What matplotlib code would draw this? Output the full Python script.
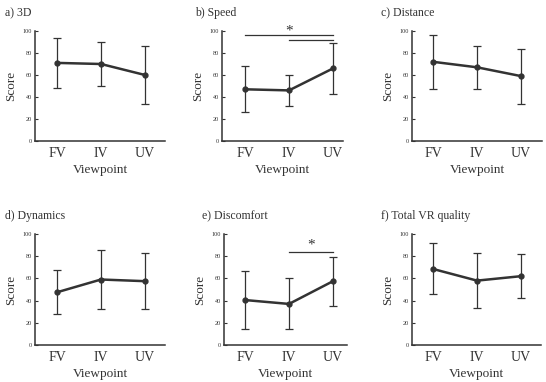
import matplotlib
matplotlib.use('Agg')
import matplotlib.pyplot as plt
import numpy as np

plt.rcParams['font.family'] = ['Liberation Serif', 'DejaVu Serif']

## data
viewpoints = ['FV', 'IV', 'UV']
titles = ['a) 3D', 'b) Speed', 'c) Distance', 'd) Dynamics', 'e) Discomfort', 'f) Total VR quality']

mean_3d = [71, 70, 60]
sd_3d = [23, 20, 26]
mean_speed = [47, 46, 66]
sd_speed = [21, 14, 23]
mean_distance = [72, 67, 59]
sd_distance = [24.5, 19.5, 25]
mean_dynamics = [47.5, 59, 57.5]
sd_dynamics = [20, 27, 25]
mean_discomfort = [40.5, 37, 57.5]
sd_discomfort = [26, 23, 22]
mean_total = [68.5, 58, 62]
sd_total = [23, 25, 20]

means = [mean_3d, mean_speed, mean_distance, mean_dynamics, mean_discomfort, mean_total]
sds = [sd_3d, sd_speed, sd_distance, sd_dynamics, sd_discomfort, sd_total]

# significance brackets: panel index -> list of (from, to, height)
sig_pairs = {1: [(0, 2, 96), (1, 2, 92)], 4: [(1, 2, 84)]}
star_pos = {1: (1.0, 100), 4: (1.5, 90)}

## layout (pixels)
W, H = 546, 382
# left, right-end, top, bottom of each axes in px
boxes = [(35, 165, 31, 141), (222, 343, 31, 141), (412, 542, 31, 141),
         (35, 165, 234, 345), (224, 347, 234, 345), (412, 541, 234, 345)]
first_tick = [57, 245, 433, 57, 245, 433]
spacing = 44.0
title_x = [5, 195, 381, 5, 202, 381]

fig = plt.figure(figsize=(W / 100, H / 100), dpi=100)
col = '#333333'

for i in range(6):
    l, r, t, b = boxes[i]
    ax = fig.add_axes([l / W, 1 - b / H, (r - l) / W, (b - t) / H])
    x = np.arange(3)
    ax.errorbar(x, means[i], yerr=sds[i], color=col, lw=1.8, marker='o', ms=3.5,
                elinewidth=0.9, capsize=3, capthick=0.9, ecolor=col)
    ax.set_ylim(0, 100)
    ax.set_xlim((l - first_tick[i]) / spacing, (r - first_tick[i]) / spacing)
    ax.set_xticks(x)
    ax.set_xticklabels(viewpoints, fontsize=10)
    ax.set_yticks(range(0, 101, 20))
    ax.tick_params(axis='y', labelsize=4.5, direction='in', length=2, width=0.8, pad=2, colors=col)
    ax.tick_params(axis='x', length=0, pad=4, colors=col)
    for s in ['top', 'right']:
        ax.spines[s].set_visible(False)
    for s in ['left', 'bottom']:
        ax.spines[s].set_linewidth(1.1)
        ax.spines[s].set_color(col)
    ax.set_ylabel('Score', fontsize=9.5, color=col, labelpad=4)
    ax.set_xlabel('Viewpoint', fontsize=9.5, color=col, labelpad=3)
    fig.text(title_x[i] / W, 1 - (t - 18) / H, titles[i],
             fontsize=8.5, color=col, ha='left', va='center')
    if i in sig_pairs:
        for a, c, h in sig_pairs[i]:
            ax.plot([a, c], [h, h], color=col, lw=0.9, clip_on=False)
        sx, sy = star_pos[i]
        ax.text(sx, sy, '*', fontsize=11, color=col, ha='center', va='center')

fig.savefig('out.png', dpi=100)
